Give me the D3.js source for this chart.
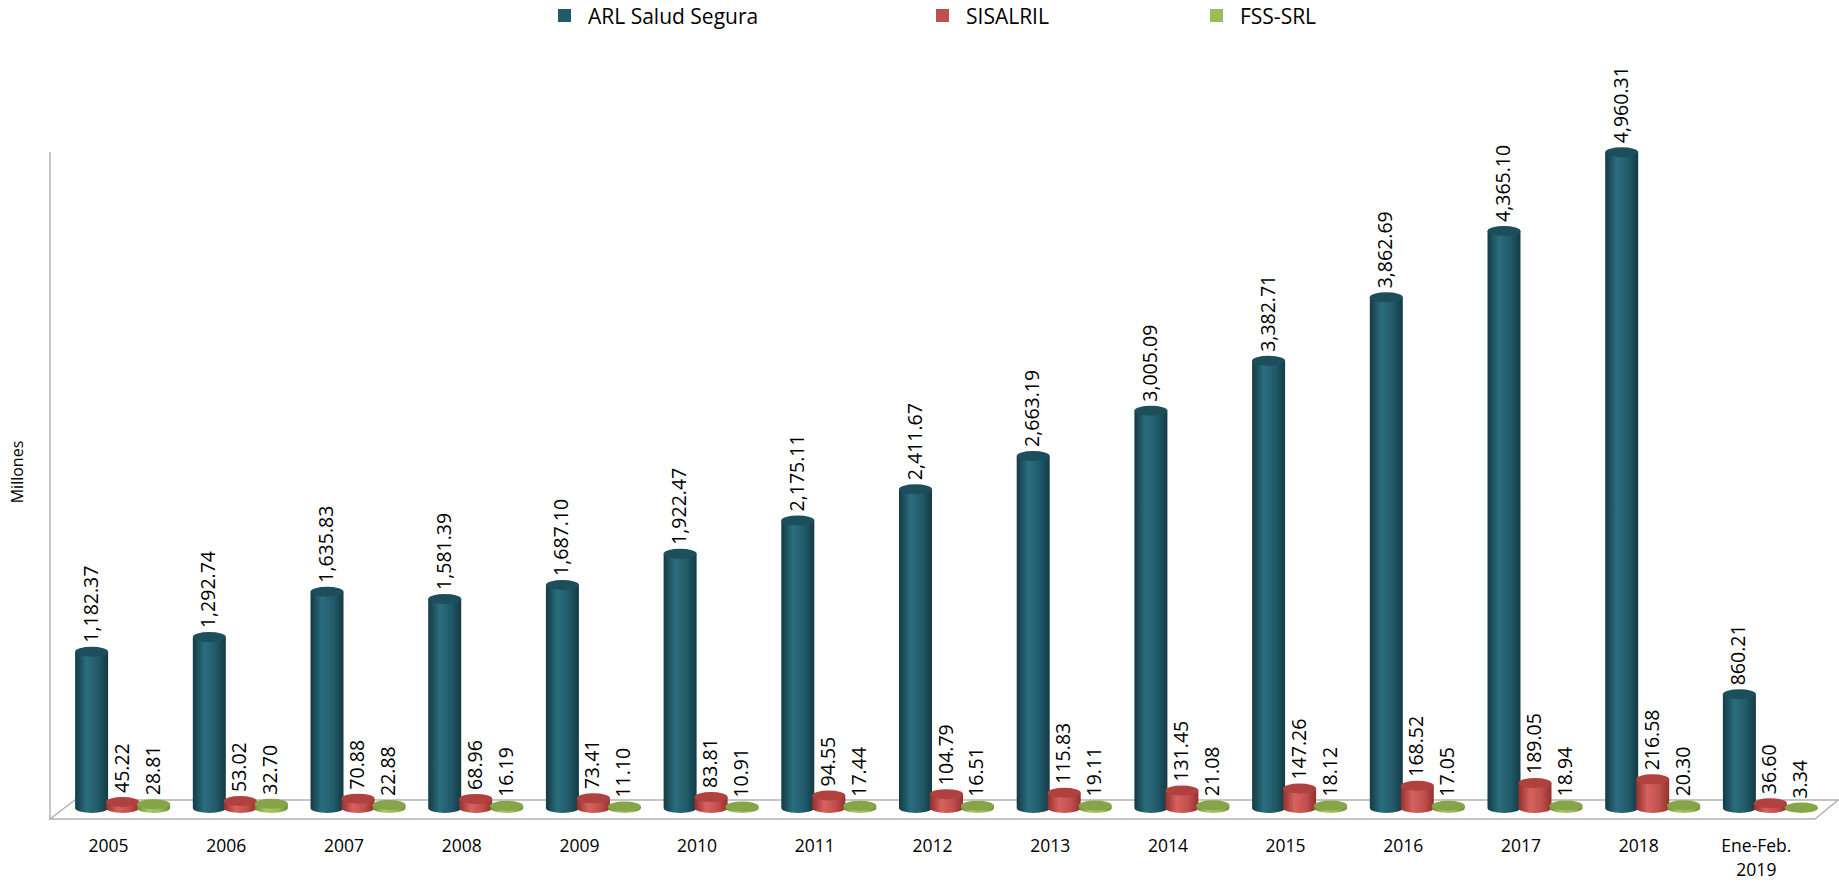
<!DOCTYPE html>
<html>
<head>
<meta charset="utf-8">
<script src="https://cdn.jsdelivr.net/npm/d3@7"></script>
<style>
  body { margin: 0; background: #fff; }
  text { font-family: "Open Sans", sans-serif; fill: #000; }
</style>
</head>
<body>
<div id="chart"></div>
<script>
// data
const categories = ["2005", "2006", "2007", "2008", "2009", "2010", "2011", "2012",
    "2013", "2014", "2015", "2016", "2017", "2018", "Ene-Feb.\n2019"];
const seriesNames = ["ARL Salud Segura", "SISALRIL", "FSS-SRL"];
const arl = [1182.37, 1292.74, 1635.83, 1581.39, 1687.10, 1922.47, 2175.11, 2411.67,
    2663.19, 3005.09, 3382.71, 3862.69, 4365.10, 4960.31, 860.21];
const sisalril = [45.22, 53.02, 70.88, 68.96, 73.41, 83.81, 94.55, 104.79,
    115.83, 131.45, 147.26, 168.52, 189.05, 216.58, 36.60];
const fss = [28.81, 32.70, 22.88, 16.19, 11.10, 10.91, 17.44, 16.51,
    19.11, 21.08, 18.12, 17.05, 18.94, 20.30, 3.34];
const yTitle = "Millones";

const colors = {
    "ARL Salud Segura": { base: "#215a69", dark: "#143a44", light: "#2b6e7e", top: "#1c4e5b" },
    "SISALRIL": { base: "#c0504d", dark: "#93302d", light: "#d6625e", top: "#b1413e" },
    "FSS-SRL": { base: "#9bbb59", dark: "#6f8c36", light: "#a9c868", top: "#86a548" }
};

const width = 1839, height = 882;
const floorY = 808, ry = 5;

const table = categories.map((c, i) => ({
    cat: c,
    values: [
        { key: seriesNames[0], v: arl[i] },
        { key: seriesNames[1], v: sisalril[i] },
        { key: seriesNames[2], v: fss[i] }
    ]
}));

const x0 = d3.scaleBand()
    .domain(categories)
    .range([64, 1829])
    .paddingInner(0.193)
    .paddingOuter(0.0945);

const x1 = d3.scaleBand()
    .domain(seriesNames)
    .range([0, x0.bandwidth() - 2]);

const y = d3.scaleLinear()
    .domain([0, 5000])
    .range([floorY, floorY - 661]);

const fmt = d3.format(",.2f");

const svg = d3.select("#chart")
    .append("svg")
    .attr("width", width)
    .attr("height", height);

// gradients for cylinder bodies
const defs = svg.append("defs");
seriesNames.forEach((s, i) => {
    const g = defs.append("linearGradient")
        .attr("id", "grad" + i)
        .attr("x1", "0%").attr("x2", "100%").attr("y1", "0%").attr("y2", "0%");
    g.append("stop").attr("offset", "0%").attr("stop-color", colors[s].dark);
    g.append("stop").attr("offset", "35%").attr("stop-color", colors[s].light);
    g.append("stop").attr("offset", "70%").attr("stop-color", colors[s].base);
    g.append("stop").attr("offset", "100%").attr("stop-color", colors[s].dark);
});

// walls / floor
const axisColor = "#b3b3b3";
svg.append("line")
    .attr("x1", 50).attr("x2", 50)
    .attr("y1", 152).attr("y2", 819)
    .attr("stroke", axisColor).attr("stroke-width", 1.5);
svg.append("path")
    .attr("d", "M50,819 L1815,819 L1838,800 L75,800 Z")
    .attr("fill", "#fff")
    .attr("stroke", axisColor)
    .attr("stroke-width", 1.5);

// y title
svg.append("text")
    .attr("transform", "translate(23,472) rotate(-90)")
    .attr("text-anchor", "middle")
    .style("font-size", "16px")
    .text(yTitle);

// cylinders
const groups = svg.append("g")
    .selectAll("g")
    .data(table)
    .join("g")
    .attr("transform", d => `translate(${x0(d.cat)},0)`);

const bw = x1.bandwidth() + 2;
const rx = bw / 2;

function cylinderBody(x, top, base) {
    return `M${x},${top} L${x},${base} A${rx},${ry} 0 0 0 ${x + bw},${base} L${x + bw},${top} Z`;
}

groups.selectAll("g.bar")
    .data(d => d.values)
    .join("g")
    .attr("class", "bar")
    .each(function (d, i) {
        const g = d3.select(this);
        const xl = x1(d.key);
        const top = y(d.v);
        g.append("path")
            .attr("d", cylinderBody(xl, top, floorY))
            .attr("fill", `url(#grad${i})`);
        g.append("ellipse")
            .attr("cx", xl + rx)
            .attr("cy", top)
            .attr("rx", rx)
            .attr("ry", ry)
            .attr("fill", colors[d.key].top);
        g.append("text")
            .attr("transform", `translate(${xl + rx + 6},${top - ry - 4}) rotate(-90)`)
            .attr("text-anchor", "start")
            .style("font-size", "19.5px")
            .text(fmt(d.v));
    });

// category labels
const catLabels = svg.append("g")
    .selectAll("text")
    .data(categories)
    .join("text")
    .attr("x", d => x0(d) + x0.bandwidth() / 2 - 14)
    .attr("y", 852)
    .attr("text-anchor", "middle")
    .style("font-size", "17.5px");

catLabels.each(function (d) {
    const t = d3.select(this);
    d.split("\n").forEach((line, k) => {
        t.append("tspan")
            .attr("x", t.attr("x"))
            .attr("dy", k === 0 ? 0 : 24)
            .text(line);
    });
});

// legend
const legendX = [558, 936, 1210];
const legend = svg.append("g")
    .selectAll("g")
    .data(seriesNames)
    .join("g")
    .attr("transform", (d, i) => `translate(${legendX[i]},9)`);

legend.append("rect")
    .attr("width", 13)
    .attr("height", 13)
    .attr("fill", d => colors[d].base);

legend.append("text")
    .attr("x", 30)
    .attr("y", 7)
    .attr("dominant-baseline", "central")
    .style("font-size", "21px")
    .text(d => d);
</script>
</body>
</html>
